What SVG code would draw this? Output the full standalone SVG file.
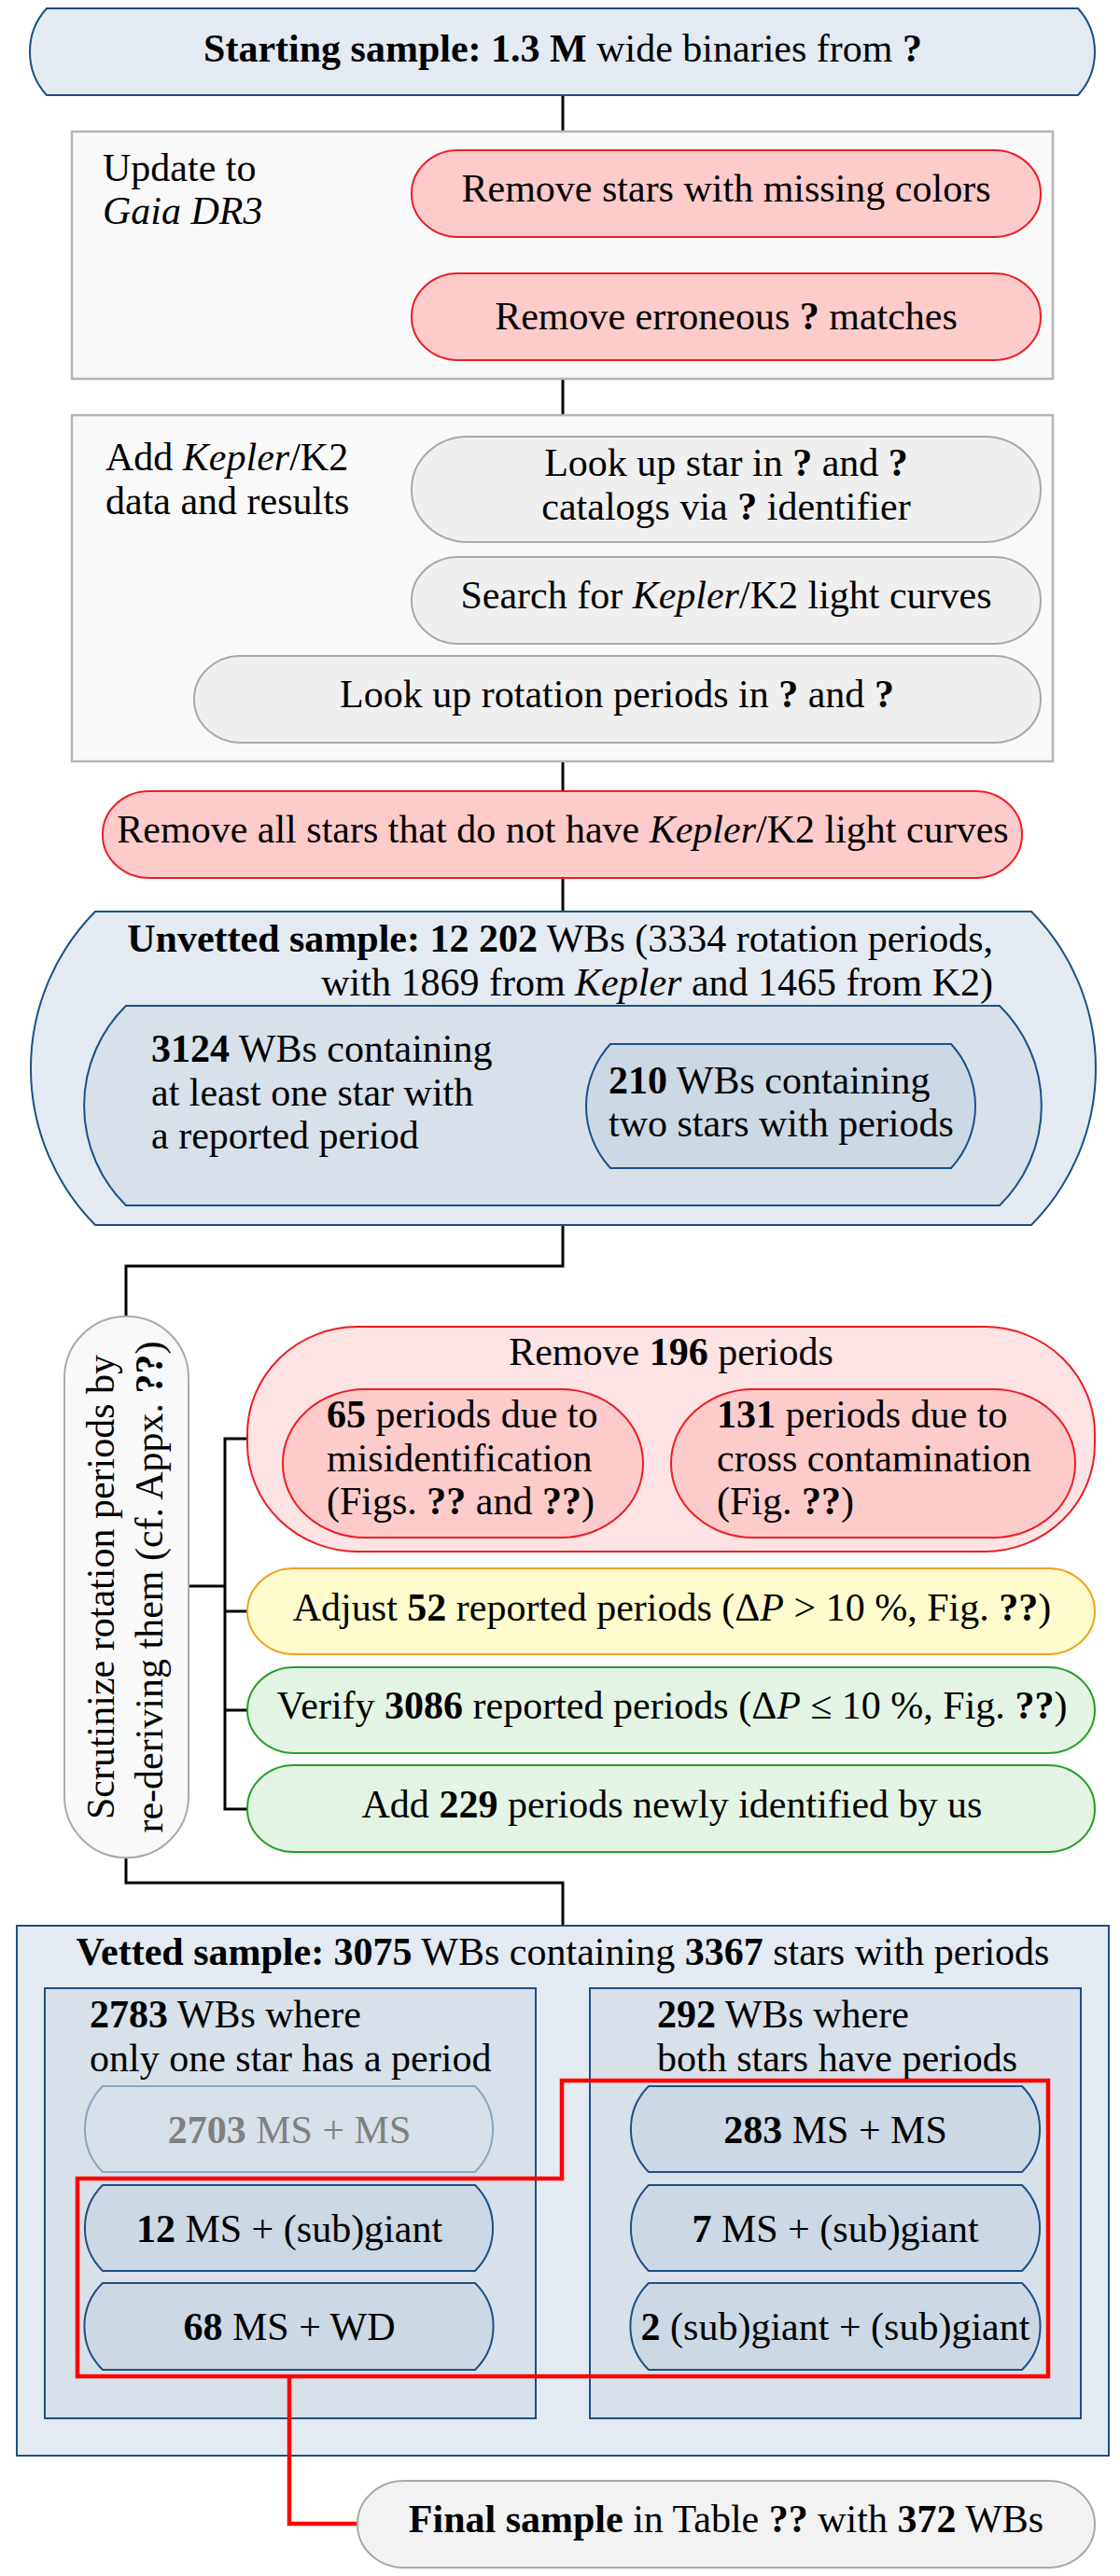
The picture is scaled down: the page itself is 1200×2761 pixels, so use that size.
<svg xmlns="http://www.w3.org/2000/svg" width="1200" height="2761" viewBox="0 0 1200 2761">
<style>
text{font-family:"Liberation Serif","Times New Roman",serif;font-size:42px;fill:#000}
.c{text-anchor:middle}
.e{text-anchor:end}
.b{font-weight:bold}
.i{font-style:italic}
.blue1{fill:#e3eaf2;stroke:#1d4f86;stroke-width:2}
.blue2{fill:#d8e0ea;stroke:#1d4f86;stroke-width:2}
.blue3{fill:#ccd8e4;stroke:#1d4f86;stroke-width:2}
.grayb{fill:#f9f9f9;stroke:#b5b5b5;stroke-width:2.5}
.grayp{fill:#efefef;stroke:#a8a8a8;stroke-width:2}
.redp{fill:#fecbcb;stroke:#ee1c24;stroke-width:2}
.redb{fill:#fee3e5;stroke:#ee1c24;stroke-width:2}
.yel{fill:#fefccc;stroke:#f2a01e;stroke-width:2}
.grn{fill:#e4f4e4;stroke:#24a024;stroke-width:2}
.fade{fill:#d8e0ea;stroke:#8aa6c2;stroke-width:2}
.con{fill:none;stroke:#000;stroke-width:3}
.hl{fill:none;stroke:#ff0000;stroke-width:4.5}
</style>

<g id="connectors">
<path class="con" d="M603,102V141"/>
<path class="con" d="M603,406V445"/>
<path class="con" d="M603,816V848"/>
<path class="con" d="M603,941V977"/>
<path class="con" d="M603,1313V1357H135V1411"/>
<path class="con" d="M202,1700H241"/>
<path class="con" d="M265,1542H241V1939H265"/>
<path class="con" d="M241,1727H265"/>
<path class="con" d="M241,1833H265"/>
<path class="con" d="M135,1991V2018H603V2064"/>
</g>

<g id="start">
<path class="blue1" d="M50,9H1155A69,69 0 0 1 1155,102H50A69,69 0 0 1 50,9Z"/>
<text class="c" x="603" y="66"><tspan class="b">Starting sample: 1.3 M</tspan> wide binaries from <tspan class="b">?</tspan></text>
</g>

<g id="update">
<rect class="grayb" x="77" y="141" width="1051" height="265"/>
<text x="110" y="194">Update to</text>
<text x="110" y="240" class="i">Gaia DR3</text>
</g>
<g id="missing-colors">
<rect class="redp" x="441" y="161" width="674" height="93" rx="50" ry="46"/>
<text class="c" x="778" y="216">Remove stars with missing colors</text>
</g>
<g id="erroneous">
<rect class="redp" x="441" y="293" width="674" height="93" rx="50" ry="46"/>
<text class="c" x="778" y="353">Remove erroneous <tspan class="b">?</tspan> matches</text>
</g>

<g id="kepler">
<rect class="grayb" x="77" y="445" width="1051" height="371"/>
<text x="113" y="504">Add <tspan class="i">Kepler</tspan>/K2</text>
<text x="113" y="551">data and results</text>
</g>
<g id="lookup-star">
<rect class="grayp" x="441" y="468" width="674" height="113" rx="60" ry="56"/>
<text class="c" x="778" y="510">Look up star in <tspan class="b">?</tspan> and <tspan class="b">?</tspan></text>
<text class="c" x="778" y="557">catalogs via <tspan class="b">?</tspan> identifier</text>
</g>
<g id="search-lc">
<rect class="grayp" x="441" y="597" width="674" height="93" rx="50" ry="46"/>
<text class="c" x="778" y="652">Search for <tspan class="i">Kepler</tspan>/K2 light curves</text>
</g>
<g id="lookup-periods">
<rect class="grayp" x="208" y="703" width="907" height="93" rx="50" ry="46"/>
<text class="c" x="661" y="758">Look up rotation periods in <tspan class="b">?</tspan> and <tspan class="b">?</tspan></text>
</g>

<g id="remove-nolc">
<rect class="redp" x="110" y="848" width="985" height="93" rx="50" ry="46"/>
<text class="c" x="603" y="903">Remove all stars that do not have <tspan class="i">Kepler</tspan>/K2 light curves</text>
</g>

<g id="unvetted">
<path class="blue1" d="M102,977H1105A239,239 0 0 1 1105,1313H102A239,239 0 0 1 102,977Z"/>
<text class="e" x="1064" y="1020"><tspan class="b">Unvetted sample: 12 202</tspan> WBs (3334 rotation periods,</text>
<text class="e" x="1064" y="1067">with 1869 from <tspan class="i">Kepler</tspan> and 1465 from K2)</text>
</g>
<g id="one-star">
<path class="blue2" d="M135,1078H1071A150,150 0 0 1 1071,1292H135A150,150 0 0 1 135,1078Z"/>
<text x="162" y="1138"><tspan class="b">3124</tspan> WBs containing</text>
<text x="162" y="1185">at least one star with</text>
<text x="162" y="1231">a reported period</text>
</g>
<g id="two-stars">
<path class="blue3" d="M654,1119H1019A98,98 0 0 1 1019,1252H654A98,98 0 0 1 654,1119Z"/>
<text x="652" y="1172"><tspan class="b">210</tspan> WBs containing</text>
<text x="652" y="1218">two stars with periods</text>
</g>

<g id="scrutinize">
<rect class="grayb" x="69" y="1411" width="133" height="580" rx="66" ry="66" style="stroke:#aaaaaa;stroke-width:2"/>
<text class="c" transform="translate(122,1701) rotate(-90)">Scrutinize rotation periods by</text>
<text class="c" transform="translate(174,1701) rotate(-90)">re-deriving them (cf. Appx. <tspan class="b">??</tspan>)</text>
</g>

<g id="remove-196">
<rect class="redb" x="265" y="1422" width="908" height="241" rx="118" ry="115"/>
<text class="c" x="719" y="1463">Remove <tspan class="b">196</tspan> periods</text>
</g>
<g id="misid">
<rect class="redp" x="303" y="1489" width="386" height="159" rx="88" ry="79"/>
<text x="350" y="1530"><tspan class="b">65</tspan> periods due to</text>
<text x="350" y="1577">misidentification</text>
<text x="350" y="1623">(Figs. <tspan class="b">??</tspan> and <tspan class="b">??</tspan>)</text>
</g>
<g id="contam">
<rect class="redp" x="719" y="1489" width="433" height="159" rx="88" ry="79"/>
<text x="768" y="1530"><tspan class="b">131</tspan> periods due to</text>
<text x="768" y="1577">cross contamination</text>
<text x="768" y="1623">(Fig. <tspan class="b">??</tspan>)</text>
</g>
<g id="adjust">
<rect class="yel" x="265" y="1681" width="908" height="92" rx="50" ry="46"/>
<text class="c" x="720" y="1737">Adjust <tspan class="b">52</tspan> reported periods (Δ<tspan class="i">P</tspan> &gt; 10 %, Fig. <tspan class="b">??</tspan>)</text>
</g>
<g id="verify">
<rect class="grn" x="265" y="1787" width="908" height="92" rx="50" ry="46"/>
<text class="c" x="720" y="1842">Verify <tspan class="b">3086</tspan> reported periods (Δ<tspan class="i">P</tspan> ≤ 10 %, Fig. <tspan class="b">??</tspan>)</text>
</g>
<g id="add-new">
<rect class="grn" x="265" y="1892" width="908" height="93" rx="50" ry="46"/>
<text class="c" x="720" y="1948">Add <tspan class="b">229</tspan> periods newly identified by us</text>
</g>

<g id="vetted">
<rect class="blue1" x="18" y="2064" width="1170" height="568"/>
<text class="c" x="603" y="2106"><tspan class="b">Vetted sample: 3075</tspan> WBs containing <tspan class="b">3367</tspan> stars with periods</text>
</g>
<g id="one-period">
<rect class="blue2" x="48" y="2131" width="526" height="461"/>
<text x="96" y="2173"><tspan class="b">2783</tspan> WBs where</text>
<text x="96" y="2220">only one star has a period</text>
</g>
<g id="both-periods">
<rect class="blue2" x="632" y="2131" width="526" height="461"/>
<text x="704" y="2173"><tspan class="b">292</tspan> WBs where</text>
<text x="704" y="2220">both stars have periods</text>
</g>
<g id="ms-ms-left">
<path class="fade" d="M110,2236H509A65,65 0 0 1 509,2328H110A65,65 0 0 1 110,2236Z"/>
<text class="c" x="310" y="2297" style="fill:#808080"><tspan class="b">2703</tspan> MS + MS</text>
</g>
<g id="ms-giant-left">
<path class="blue3" d="M110,2342H509A65,65 0 0 1 509,2434H110A65,65 0 0 1 110,2342Z"/>
<text class="c" x="310" y="2403"><tspan class="b">12</tspan> MS + (sub)giant</text>
</g>
<g id="ms-wd">
<path class="blue3" d="M110,2447H509A65,65 0 0 1 509,2540H110A65,65 0 0 1 110,2447Z"/>
<text class="c" x="310" y="2508"><tspan class="b">68</tspan> MS + WD</text>
</g>
<g id="ms-ms-right">
<path class="blue3" d="M695,2236H1095A65,65 0 0 1 1095,2328H695A65,65 0 0 1 695,2236Z"/>
<text class="c" x="895" y="2297"><tspan class="b">283</tspan> MS + MS</text>
</g>
<g id="ms-giant-right">
<path class="blue3" d="M695,2342H1095A65,65 0 0 1 1095,2434H695A65,65 0 0 1 695,2342Z"/>
<text class="c" x="895" y="2403"><tspan class="b">7</tspan> MS + (sub)giant</text>
</g>
<g id="giant-giant">
<path class="blue3" d="M695,2447H1095A65,65 0 0 1 1095,2540H695A65,65 0 0 1 695,2447Z"/>
<text class="c" x="895" y="2508"><tspan class="b">2</tspan> (sub)giant + (sub)giant</text>
</g>

<g id="highlight">
<path class="hl" d="M83,2335H602V2230H1123V2547H83Z"/>
<path class="hl" d="M310,2547V2705H383"/>
</g>

<g id="final">
<rect class="grayp" x="383" y="2659" width="790" height="93" rx="50" ry="46" style="fill:#f2f2f2"/>
<text class="c" x="778" y="2714"><tspan class="b">Final sample</tspan> in Table <tspan class="b">??</tspan> with <tspan class="b">372</tspan> WBs</text>
</g>
</svg>
